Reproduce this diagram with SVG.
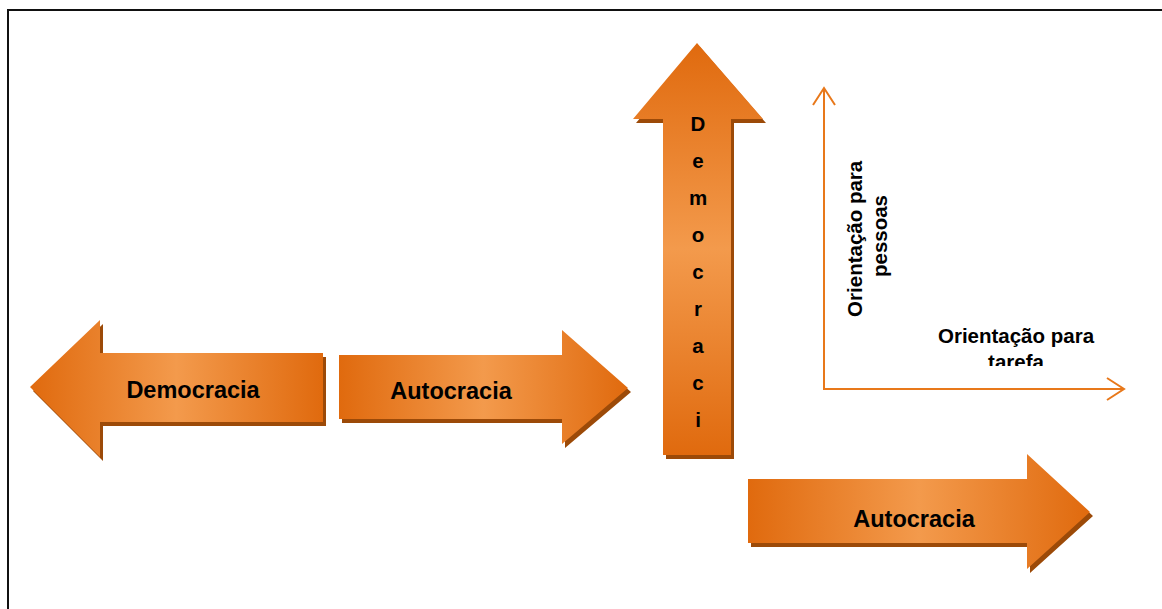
<svg xmlns="http://www.w3.org/2000/svg" width="1162" height="609" viewBox="0 0 1162 609">
  <defs>
    <linearGradient id="gradH" x1="0" y1="0" x2="1" y2="0">
      <stop offset="0" stop-color="#e06a0e"/>
      <stop offset="0.5" stop-color="#f39a4c"/>
      <stop offset="1" stop-color="#e06a0e"/>
    </linearGradient>
    <linearGradient id="gradV" x1="0" y1="0" x2="0" y2="1">
      <stop offset="0" stop-color="#e06a0e"/>
      <stop offset="0.5" stop-color="#f39a4c"/>
      <stop offset="1" stop-color="#e06a0e"/>
    </linearGradient>
    <marker id="openHead" viewBox="0 0 20 24" refX="18" refY="12" markerWidth="20" markerHeight="24" markerUnits="userSpaceOnUse" orient="auto">
      <path d="M1,1 L18,12 L1,23" fill="none" stroke="#e8781a" stroke-width="2"/>
    </marker>
    <clipPath id="taskClip">
      <rect x="900" y="320" width="240" height="46"/>
    </clipPath>
  </defs>
  <style>
    .shadow { fill: #9c4a08; }
    .bodyH { fill: url(#gradH); }
    .bodyV { fill: url(#gradV); }
    .label { font-family: "Liberation Sans", Arial, sans-serif; font-weight: bold; fill: #000; }
    .big { font-size: 23.5px; text-anchor: middle; }
    .axisText { font-size: 20.5px; text-anchor: middle; }
    .axis { stroke: #e8781a; stroke-width: 2; fill: none; }
  </style>

  <rect width="1162" height="609" fill="#fff"/>
  <!-- page frame -->
  <path d="M8,609 V10 H1162" fill="none" stroke="#111" stroke-width="2"/>

  <!-- left arrow: Democracia -->
  <g id="arrow-democracia-left">
    <polygon class="shadow" transform="translate(3,4)" points="30,387 100,320 100,353 323,353 323,422 100,422 100,457"/>
    <polygon class="bodyH" points="30,387 100,320 100,353 323,353 323,422 100,422 100,457"/>
    <text class="label big" x="193" y="398">Democracia</text>
  </g>

  <!-- middle arrow: Autocracia -->
  <g id="arrow-autocracia-mid">
    <polygon class="shadow" transform="translate(3,4)" points="339,355 562,355 562,330 628,388 562,444 562,419 339,419"/>
    <polygon class="bodyH" points="339,355 562,355 562,330 628,388 562,444 562,419 339,419"/>
    <text class="label big" x="451" y="399">Autocracia</text>
  </g>

  <!-- vertical arrow: Democraci -->
  <g id="arrow-democracia-up">
    <polygon class="shadow" transform="translate(3,4)" points="697,43 763,119 731,119 731,455 663,455 663,119 633,119"/>
    <polygon class="bodyV" points="697,43 763,119 731,119 731,455 663,455 663,119 633,119"/>
    <g class="label" font-size="20.5" text-anchor="middle">
      <text x="698" y="131">D</text>
      <text x="698" y="168">e</text>
      <text x="698" y="205">m</text>
      <text x="698" y="242">o</text>
      <text x="698" y="279">c</text>
      <text x="698" y="316">r</text>
      <text x="698" y="353">a</text>
      <text x="698" y="390">c</text>
      <text x="698" y="427">i</text>
    </g>
  </g>

  <!-- lower arrow: Autocracia -->
  <g id="arrow-autocracia-low">
    <polygon class="shadow" transform="translate(3,4)" points="748,479 1027,479 1027,454 1090,512 1027,569 1027,543 748,543"/>
    <polygon class="bodyH" points="748,479 1027,479 1027,454 1090,512 1027,569 1027,543 748,543"/>
    <text class="label big" x="914" y="527">Autocracia</text>
  </g>

  <!-- axes -->
  <g id="connectors">
    <line class="axis" x1="824" y1="390" x2="824" y2="88" marker-end="url(#openHead)"/>
    <line class="axis" x1="823" y1="389" x2="1124" y2="389" marker-end="url(#openHead)"/>
  </g>

  <g id="label-pessoas">
    <text class="label axisText" transform="translate(862,236) rotate(-90)">
      <tspan x="0" y="0">Orientação para</tspan>
      <tspan x="0" y="25">pessoas</tspan>
    </text>
  </g>

  <g id="label-tarefa" clip-path="url(#taskClip)">
    <text class="label axisText" x="1016" y="343">Orientação para</text>
    <text class="label axisText" x="1016" y="369">tarefa</text>
  </g>
</svg>
